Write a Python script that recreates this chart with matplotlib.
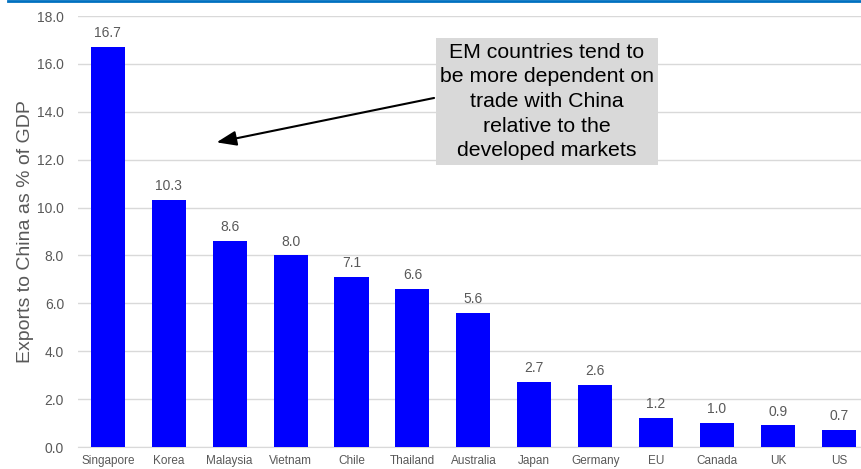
import matplotlib.pyplot as plt
from matplotlib.lines import Line2D

plt.rcParams['font.family'] = ['Liberation Sans', 'DejaVu Sans']

countries = ['Singapore', 'Korea', 'Malaysia', 'Vietnam', 'Chile', 'Thailand', 'Australia',
             'Japan', 'Germany', 'EU', 'Canada', 'UK', 'US']
exports_pct_gdp = [16.7, 10.3, 8.6, 8.0, 7.1, 6.6, 5.6, 2.7, 2.6, 1.2, 1.0, 0.9, 0.7]
y_ticks = [0, 2, 4, 6, 8, 10, 12, 14, 16, 18]

grey_txt = '#595959'

fig = plt.figure(figsize=(8.62, 4.69), dpi=100)
ax = fig.add_axes([78 / 862, 1 - 447 / 469, 1 - 78 / 862, 431 / 469])

x = range(len(countries))
bars = ax.bar(x, exports_pct_gdp, width=0.56, color='#0000FF', zorder=3)
for xi, v in zip(x, exports_pct_gdp):
    ax.annotate(f'{v:.1f}', (xi, v), xytext=(0, 5), textcoords='offset points',
                ha='center', va='bottom', fontsize=10, color=grey_txt)

ax.set_xlim(-0.49, 12.38)
ax.set_ylim(0, 18)
ax.set_yticks(y_ticks)
ax.set_yticklabels([f'{t:.1f}' for t in y_ticks], fontsize=10, color=grey_txt)
ax.set_xticks(list(x))
ax.set_xticklabels(countries, fontsize=8.5, color=grey_txt)
ax.tick_params(axis='both', length=0)
ax.tick_params(axis='y', pad=10)
ax.tick_params(axis='x', pad=6)
ax.yaxis.grid(True, color='#D9D9D9', linewidth=1, zorder=0)
for side in ['top', 'right', 'left']:
    ax.spines[side].set_visible(False)
ax.spines['bottom'].set_color('#D9D9D9')
ax.set_ylabel('Exports to China as % of GDP', fontsize=14, color=grey_txt, labelpad=2)

# callout box and arrow
ax.text(7.21, 14.43, 'EM countries tend to\nbe more dependent on\ntrade with China\nrelative to the\ndeveloped markets',
        ha='center', va='center', fontsize=15.3, color='black', linespacing=1.38, zorder=5,
        bbox=dict(boxstyle='square,pad=0.2', facecolor='#D9D9D9', edgecolor='none'))
ax.annotate('', xy=(1.74, 12.7), xytext=(5.40, 14.6),
            arrowprops=dict(arrowstyle='-|>,head_length=1.2,head_width=0.45', color='black', lw=1.5),
            zorder=4)

# thin blue rule along the top
fig.add_artist(Line2D([8 / 862, 1], [1 - 0.8 / 469, 1 - 0.8 / 469], transform=fig.transFigure,
                      color='#0070C0', linewidth=2))

fig.savefig('out.png', dpi=100)
